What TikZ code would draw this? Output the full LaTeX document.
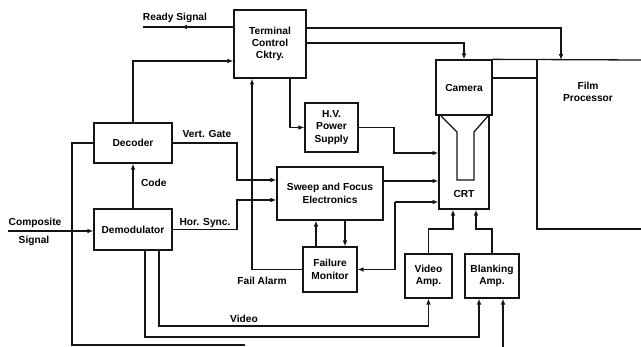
\documentclass[tikz,border=0pt]{standalone}
\usepackage{fontspec}
\setmainfont{Liberation Sans}
\usepackage{xcolor}
\usepackage{tikz}
\usetikzlibrary{arrows.meta,decorations.markings}
\definecolor{CRInk}{HTML}{141414}

\begin{document}
\begin{tikzpicture}[x=0.03cm,y=-0.03cm,
  font=\fontsize{8.7}{10.5}\selectfont\bfseries,
  blk/.style={draw=CRInk,line width=1.1pt,align=center,inner sep=0pt},
  wire/.style={draw=CRInk,line width=1.1pt},
  arr/.style={wire,-{Latex[length=5pt,width=4pt]}},
  midarr/.style={wire,postaction={decorate},decoration={markings,mark=at position 0.58 with {\arrow{Latex[length=5pt,width=4pt]}}}}]
\path[use as bounding box] (0,0) rectangle (641,347);
\node[blk,minimum width=2.16cm,minimum height=2.04cm] (tcc) at (270,44) {Terminal\\Control\\Cktry.};
\node[blk,minimum width=2.34cm,minimum height=1.20cm] (dec) at (133,143) {Decoder};
\node[blk,minimum width=2.34cm,minimum height=1.23cm] (dem) at (133,229.5) {Demodulator};
\node[blk,minimum width=1.59cm,minimum height=1.47cm] (hv) at (331.5,127.5) {H.V.\\Power\\Supply};
\node[blk,minimum width=3.18cm,minimum height=1.59cm] (sfe) at (330,193.5) {Sweep and Focus\\Electronics};
\node[blk,minimum width=1.62cm,minimum height=1.35cm] (fm) at (330,269.5) {Failure\\Monitor};
\node[blk,minimum width=1.68cm,minimum height=1.65cm] (cam) at (464,87.5) {Camera};
\node[blk,minimum width=1.50cm,minimum height=2.82cm] (crt) at (464,162) {};
\node[blk,minimum width=1.41cm,minimum height=1.32cm] (va) at (428.5,276) {Video\\Amp.};
\node[blk,minimum width=1.62cm,minimum height=1.32cm] (ba) at (492,276) {Blanking\\Amp.};
\node (crtlbl) at (464,194) {CRT};
\node[align=center] (fp) at (588,92) {Film\\Processor};
\draw[wire] (441,116) -- (457,132) -- (457,180) -- (474,180) -- (474,132) -- (488,116);
\draw[wire] (cam.north east) -- (641,60);
\draw[wire] (cam.north east) rectangle (537,78);
\draw[wire] (537,60) |- (641,229);
\coordinate (rdy) at (143,27);
\coordinate (cin) at (8,231);
\coordinate (fb) at (395,202);
\coordinate (fptop) at (561,60);
\coordinate (bkin) at (503,347);
\coordinate (lpend) at (245,345);
\draw[midarr] (tcc.west |- rdy) -- (rdy);
\node (rdylbl) at (175,18) {Ready Signal};
\draw[arr] (dec.north) |- (tcc.west |- 0,61);
\draw[arr] (tcc.east |- 0,28) -| (fptop);
\draw[arr] (tcc.east |- 0,43) -| (cam.north);
\draw[arr] (tcc.south -| 290,0) |- (hv.west);
\draw[arr] (hv.east) -| (394,153) -- (crt.west |- 0,153);
\draw[arr] (cin) -- (dem.west |- cin);
\node (cmplbl) at (35,223) {Composite};
\node (siglbl) at (34,241) {Signal};
\draw[arr] (dem.north) -- (dec.south);
\node[anchor=west] (codelbl) at (137,183) {Code};
\draw[arr] (dec.east) -| (237,180) -- (sfe.west |- 0,180);
\node (vglbl) at (207,134) {Vert. Gate};
\draw[arr] (dem.east) -| (237,200) -- (sfe.west |- 0,200);
\node (hslbl) at (205,223) {Hor. Sync.};
\draw[arr] (fm.west) -| (tcc.south -| 252,0);
\node (falbl) at (262,281) {Fail Alarm};
\draw[arr] (fm.north -| 316,0) -- (sfe.south -| 316,0);
\draw[arr] (sfe.south -| 345,0) -- (fm.north -| 345,0);
\draw[arr] (sfe.east |- 0,181) -- (crt.west |- 0,181);
\draw[arr] (fb) -- (crt.west |- fb);
\draw[arr] (fb) |- (fm.east);
\draw[arr] (va.north) |- (453,229) -- (crt.south -| 453,0);
\draw[arr] (ba.north) |- (476,229) -- (crt.south -| 476,0);
\draw[arr] (dem.south -| 159,0) |- (va.south |- 0,326) -- (va.south);
\node (vidlbl) at (244,319) {Video};
\draw[arr] (dem.south -| 145,0) |- (479,337) -- (ba.south -| 479,0);
\draw[arr] (bkin) -- (ba.south -| bkin);
\draw[wire] (dec.west) -| (72,345) -- (lpend);
\end{tikzpicture}
\end{document}
